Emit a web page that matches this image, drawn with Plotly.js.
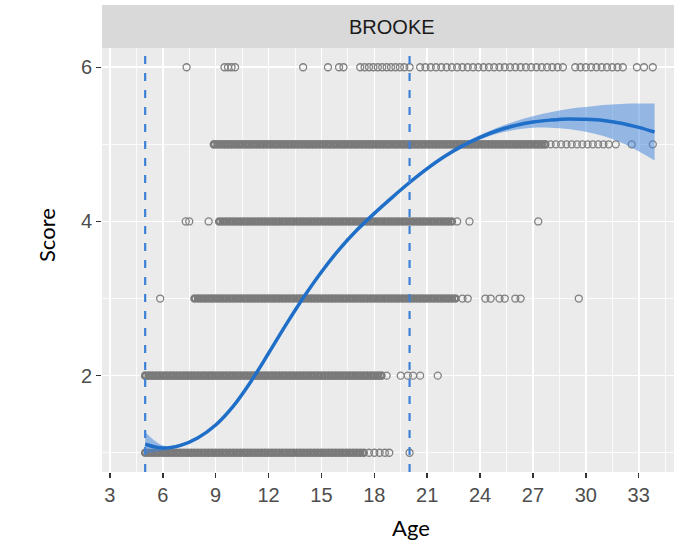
<!DOCTYPE html>
<html><head><meta charset="utf-8">
<script src="https://cdn.plot.ly/plotly-3.0.1.min.js"></script>
<style>html,body{margin:0;padding:0;overflow:hidden;background:#fff}#chart{width:690px;height:543px}</style>
</head><body><div id="chart"></div>
<script>
const panelLabel = 'BROOKE';
const xTitle = 'Age';
const yTitle = 'Score';
const xTicks = [3, 6, 9, 12, 15, 18, 21, 24, 27, 30, 33];
const yTicks = [2, 4, 6];
const cutAges = [5, 20];

// smooth fit and its confidence band
const fitAge   = [5, 6, 7, 8, 9, 10, 11, 12, 13, 14, 15, 16, 17, 18, 19, 20, 21, 22, 23, 24, 25, 26, 27, 28, 29, 30, 31, 32, 33, 33.9];
const fitScore = [1.11, 1.06, 1.095, 1.195, 1.36, 1.605, 1.925, 2.29, 2.665, 3.02, 3.345, 3.635, 3.885, 4.105, 4.31, 4.505, 4.685, 4.845, 4.98, 5.09, 5.18, 5.245, 5.29, 5.315, 5.33, 5.325, 5.31, 5.275, 5.22, 5.16];
const fitLower = [0.99, 1.025, 1.075, 1.175, 1.34, 1.585, 1.905, 2.27, 2.645, 3.0, 3.325, 3.615, 3.865, 4.085, 4.29, 4.485, 4.665, 4.825, 4.955, 5.06, 5.14, 5.19, 5.215, 5.215, 5.20, 5.165, 5.11, 5.025, 4.91, 4.79];
const fitUpper = [1.27, 1.095, 1.115, 1.215, 1.38, 1.625, 1.945, 2.31, 2.685, 3.04, 3.365, 3.655, 3.905, 4.125, 4.33, 4.525, 4.705, 4.865, 5.005, 5.12, 5.22, 5.30, 5.365, 5.415, 5.46, 5.485, 5.51, 5.525, 5.53, 5.53];

// observed ages per score level: densely overplotted runs and separate points
const denseAgesScore1 = [5.0,5.2,5.4,5.6,5.8,6.0,6.2,6.4,6.6,6.8,7.0,7.2,7.4,7.6,7.8,8.0,8.2,8.4,8.6,8.8,9.0,9.2,9.4,9.6,9.8,10.0,10.2,10.4,10.6,10.8,11.0,11.2,11.4,11.6,11.8,12.0,12.2,12.4,12.6,12.8,13.0,13.2,13.4,13.6,13.8,14.0,14.2,14.4,14.6,14.8,15.0,15.2,15.4,15.6,15.8,16.0,16.2,16.4,16.6,16.8,17.0,17.2,17.4];
const sparseAgesScore1 = [17.7,18.0,18.3,18.6,18.85,20.0];
const denseAgesScore2 = [5.0,5.2,5.4,5.6,5.8,6.0,6.2,6.4,6.6,6.8,7.0,7.2,7.4,7.6,7.8,8.0,8.2,8.4,8.6,8.8,9.0,9.2,9.4,9.6,9.8,10.0,10.2,10.4,10.6,10.8,11.0,11.2,11.4,11.6,11.8,12.0,12.2,12.4,12.6,12.8,13.0,13.2,13.4,13.6,13.8,14.0,14.2,14.4,14.6,14.8,15.0,15.2,15.4,15.6,15.8,16.0,16.2,16.4,16.6,16.8,17.0,17.2,17.4,17.6,17.8,18.0,18.2,18.4];
const sparseAgesScore2 = [18.7,19.5,19.9,20.2,20.6,21.6];
const denseAgesScore3 = [7.8,8.0,8.2,8.4,8.6,8.8,9.0,9.2,9.4,9.6,9.8,10.0,10.2,10.4,10.6,10.8,11.0,11.2,11.4,11.6,11.8,12.0,12.2,12.4,12.6,12.8,13.0,13.2,13.4,13.6,13.8,14.0,14.2,14.4,14.6,14.8,15.0,15.2,15.4,15.6,15.8,16.0,16.2,16.4,16.6,16.8,17.0,17.2,17.4,17.6,17.8,18.0,18.2,18.4,18.6,18.8,19.0,19.2,19.4,19.6,19.8,20.0,20.2,20.4,20.6,20.8,21.0,21.2,21.4,21.6,21.8,22.0,22.2,22.4,22.6];
const sparseAgesScore3 = [5.85,23.0,23.3,24.3,24.6,25.1,25.4,26.0,26.3,29.6];
const denseAgesScore4 = [9.2,9.4,9.6,9.8,10.0,10.2,10.4,10.6,10.8,11.0,11.2,11.4,11.6,11.8,12.0,12.2,12.4,12.6,12.8,13.0,13.2,13.4,13.6,13.8,14.0,14.2,14.4,14.6,14.8,15.0,15.2,15.4,15.6,15.8,16.0,16.2,16.4,16.6,16.8,17.0,17.2,17.4,17.6,17.8,18.0,18.2,18.4,18.6,18.8,19.0,19.2,19.4,19.6,19.8,20.0,20.2,20.4,20.6,20.8,21.0,21.2,21.4,21.6,21.8,22.0,22.2,22.4];
const sparseAgesScore4 = [7.3,7.5,8.6,22.7,23.4,27.3];
const denseAgesScore5 = [8.9,9.1,9.3,9.5,9.7,9.9,10.1,10.3,10.5,10.7,10.9,11.1,11.3,11.5,11.7,11.9,12.1,12.3,12.5,12.7,12.9,13.1,13.3,13.5,13.7,13.9,14.1,14.3,14.5,14.7,14.9,15.1,15.3,15.5,15.7,15.9,16.1,16.3,16.5,16.7,16.9,17.1,17.3,17.5,17.7,17.9,18.1,18.3,18.5,18.7,18.9,19.1,19.3,19.5,19.7,19.9,20.1,20.3,20.5,20.7,20.9,21.1,21.3,21.5,21.7,21.9,22.1,22.3,22.5,22.7,22.9,23.1,23.3,23.5,23.7,23.9,24.1,24.3,24.5,24.7,24.9,25.1,25.3,25.5,25.7,25.9,26.1,26.3,26.5,26.7,26.9,27.1,27.3,27.5,27.7];
const sparseAgesScore5 = [28.0,28.3,28.6,28.9,29.2,29.5,29.8,30.1,30.4,30.7,31.0,31.3,31.7,32.6,33.8];
const denseAgesScore6 = [];
const sparseAgesScore6 = [7.35,9.5,9.7,9.9,10.1,13.96,15.37,16.0,16.25,17.2,17.45,17.7,17.95,18.2,18.45,18.7,18.95,19.2,19.45,19.7,20.0,20.6,20.9,21.2,21.5,21.8,22.1,22.4,22.7,23.0,23.3,23.6,23.9,24.2,24.5,24.8,25.1,25.4,25.7,26.0,26.3,26.6,26.9,27.2,27.5,27.8,28.1,28.4,28.7,29.4,29.7,30.0,30.3,30.6,30.9,31.2,31.5,31.8,32.1,32.9,33.3,33.8];

const scoreLevels = [1, 2, 3, 4, 5, 6];
const denseByScore = [denseAgesScore1, denseAgesScore2, denseAgesScore3, denseAgesScore4, denseAgesScore5, denseAgesScore6];
const sparseByScore = [sparseAgesScore1, sparseAgesScore2, sparseAgesScore3, sparseAgesScore4, sparseAgesScore5, sparseAgesScore6];

function flatten(groups) {
  const xs = [], ys = [];
  groups.forEach((ages, i) => ages.forEach(a => { xs.push(a); ys.push(scoreLevels[i]); }));
  return {xs, ys};
}
const dense = flatten(denseByScore);
const sparse = flatten(sparseByScore);

const xRange = [2.55, 35.4];
const yRange = [0.75, 6.25];

const W = 690, H = 543;
const mL = 102, mR = 9, mT = 48, mB = 71;
const plotH = H - mT - mB;
const plotW = W - mL - mR;
const stripH = 43;

const traces = [
  {x: dense.xs, y: dense.ys, type: 'scatter', mode: 'markers', hoverinfo: 'skip',
   marker: {symbol: 'circle-open', size: 6, color: '#7A7A7A', line: {width: 2.6}}},
  {x: sparse.xs, y: sparse.ys, type: 'scatter', mode: 'markers', hoverinfo: 'skip',
   marker: {symbol: 'circle-open', size: 7, color: '#808080', line: {width: 1.3}}},
  {x: fitAge, y: fitLower, type: 'scatter', mode: 'lines', line: {width: 0, color: 'rgba(0,0,0,0)', shape: 'spline', smoothing: 1}, hoverinfo: 'skip'},
  {x: fitAge, y: fitUpper, type: 'scatter', mode: 'lines', line: {width: 0, color: 'rgba(0,0,0,0)', shape: 'spline', smoothing: 1}, fill: 'tonexty', fillcolor: 'rgba(60,130,220,0.5)', hoverinfo: 'skip'},
  {x: fitAge, y: fitScore, type: 'scatter', mode: 'lines', line: {width: 3.5, color: '#1F6FC8', shape: 'spline', smoothing: 1}, hoverinfo: 'skip'}
];

const shapes = [
  {type: 'rect', xref: 'paper', yref: 'paper', x0: 0, x1: 1, y0: 1, y1: 1 + stripH / plotH, fillcolor: '#D9D9D9', line: {width: 0}, layer: 'below'}
].concat(cutAges.map(a => ({
  type: 'line', xref: 'x', yref: 'paper', x0: a, x1: a, y0: 0, y1: 1,
  line: {color: '#3C80D8', width: 2.2, dash: '8px,9px'}, layer: 'above'
})));

const layout = {
  width: W, height: H,
  margin: {l: mL, r: mR, t: mT, b: mB, pad: 0},
  paper_bgcolor: '#FFFFFF', plot_bgcolor: '#EBEBEB',
  showlegend: false,
  font: {family: 'Liberation Sans, Arial, sans-serif', color: '#4D4D4D'},
  xaxis: {range: xRange, tickvals: xTicks, ticktext: xTicks.map(String), ticks: 'outside', ticklen: 5, tickwidth: 1.5, tickcolor: '#333333',
    tickfont: {size: 20, color: '#4D4D4D'}, showgrid: true, gridcolor: '#FFFFFF', gridwidth: 1.6, zeroline: false, showline: false,
    minor: {tick0: 0, dtick: 1.5, showgrid: true, gridcolor: '#FFFFFF', gridwidth: 0.8, ticks: ''}, fixedrange: true},
  yaxis: {range: yRange, tickvals: yTicks, ticktext: yTicks.map(String), ticks: 'outside', ticklen: 5, tickwidth: 1.5, tickcolor: '#333333',
    tickfont: {size: 20, color: '#4D4D4D'}, showgrid: true, gridcolor: '#FFFFFF', gridwidth: 1.6, zeroline: false, showline: false,
    minor: {tick0: 0, dtick: 1, showgrid: true, gridcolor: '#FFFFFF', gridwidth: 0.8, ticks: ''}, fixedrange: true},
  shapes: shapes,
  annotations: [
    {text: panelLabel, xref: 'paper', yref: 'paper', x: 0.5, y: 1 + (stripH / 2) / plotH, xanchor: 'center', yanchor: 'middle', showarrow: false,
     font: {family: 'Liberation Sans, Arial, sans-serif', size: 20, color: '#1A1A1A'}},
    {text: xTitle, xref: 'paper', yref: 'paper', x: (411 - mL) / plotW, y: -55 / plotH, xanchor: 'center', yanchor: 'middle', showarrow: false,
     font: {family: 'Lato, Carlito, sans-serif', size: 22, color: '#000000'}},
    {text: yTitle, xref: 'paper', yref: 'paper', x: (46 - mL) / plotW, y: (plotH + mT - 235) / plotH, xanchor: 'center', yanchor: 'middle', textangle: -90, showarrow: false,
     font: {family: 'Lato, Carlito, sans-serif', size: 22, color: '#000000'}}
  ]
};

Plotly.newPlot('chart', traces, layout, {displayModeBar: false, staticPlot: true});
</script>
</body></html>
